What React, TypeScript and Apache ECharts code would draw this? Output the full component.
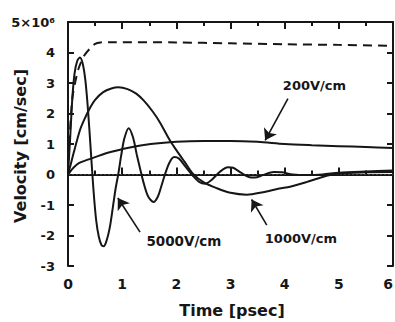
import React, { useEffect, useRef } from 'react';
import * as echarts from 'echarts';

// time [psec], velocity [10^6 cm/sec]
const xTickValues = [0, 1, 2, 3, 4, 5, 6];
const yTickValues = [-3, -2, -1, 0, 1, 2, 3, 4, 5];

const field200: [number, number][] = [
  [0, 0], [0.1, 0.22], [0.2, 0.37], [0.34, 0.47], [0.5, 0.57], [0.75, 0.72],
  [1.0, 0.83], [1.4, 0.97], [2.0, 1.07], [2.5, 1.1], [3.0, 1.1], [3.5, 1.07],
  [4.0, 1.0], [4.5, 0.96], [5.0, 0.93], [5.5, 0.9], [6.0, 0.87],
];

const field1000: [number, number][] = [
  [0, 0], [0.05, 0.33], [0.1, 0.68], [0.22, 1.45], [0.3, 1.8], [0.41, 2.2],
  [0.5, 2.45], [0.65, 2.7], [0.8, 2.82], [0.93, 2.86], [1.1, 2.8], [1.26, 2.65],
  [1.4, 2.42], [1.57, 2.05], [1.7, 1.7], [1.88, 1.12], [2.0, 0.8], [2.15, 0.42],
  [2.31, 0.02], [2.5, -0.25], [2.75, -0.45], [3.0, -0.6], [3.3, -0.66],
  [3.6, -0.58], [3.9, -0.46], [4.1, -0.4], [4.4, -0.25], [4.7, -0.08],
  [5.0, 0.03], [5.5, 0.07], [6.0, 0.08],
];

const field5000: [number, number][] = [
  [0, 0], [0.04, 1.2], [0.08, 2.5], [0.12, 3.3], [0.17, 3.72], [0.22, 3.84],
  [0.27, 3.65], [0.32, 3.1], [0.37, 2.1], [0.42, 0.8], [0.47, -0.5],
  [0.52, -1.5], [0.57, -2.05], [0.62, -2.32], [0.66, -2.35], [0.71, -2.18],
  [0.77, -1.75], [0.83, -1.05], [0.88, -0.45], [0.93, 0.03], [0.98, 0.6],
  [1.04, 1.18], [1.12, 1.52], [1.2, 1.22], [1.27, 0.65], [1.33, 0.2],
  [1.4, -0.3], [1.48, -0.72], [1.58, -0.9], [1.66, -0.72], [1.72, -0.4],
  [1.79, 0], [1.87, 0.38], [1.96, 0.57], [2.05, 0.52], [2.15, 0.3],
  [2.31, -0.05], [2.42, -0.24], [2.53, -0.3], [2.65, -0.18], [2.8, 0.08],
  [2.95, 0.24], [3.05, 0.22], [3.2, 0.05], [3.35, -0.09], [3.45, -0.1],
  [3.6, -0.02], [3.8, 0.08], [3.95, 0.07], [4.15, 0], [4.4, -0.02],
  [4.7, 0], [5.0, 0.06], [5.5, 0.1], [6.0, 0.13],
];

const dashedCurve: [number, number][] = [
  [0, 0], [0.04, 1.5], [0.08, 2.5], [0.13, 3.0], [0.2, 3.5], [0.3, 3.9],
  [0.4, 4.12], [0.5, 4.28], [0.6, 4.33], [0.8, 4.34], [2.0, 4.33], [3.0, 4.3],
  [4.0, 4.27], [5.0, 4.25], [6.0, 4.22],
];

const zeroLine: [number, number][] = [[0, 0], [6, 0]];

const curveLabels = ['200V/cm', '1000V/cm', '5000V/cm'];

const FONT = 'DejaVu Sans';
const INK = '#161616';

export default function App() {
  const ref = useRef<HTMLDivElement>(null);

  useEffect(() => {
    if (!ref.current) return;
    const chart = echarts.init(ref.current, null, { renderer: 'svg' });

    // annotation placement in data coordinates
    const labelPos: [number, number][] = [[4.55, 2.92], [4.3, -2.11], [2.14, -2.18]];
    const labelSize = [13, 13, 13.5];
    const arrows: [[number, number], [number, number]][] = [
      [[4.06, 2.49], [3.64, 1.12]],
      [[3.67, -1.66], [3.39, -0.82]],
      [[1.33, -1.89], [0.92, -0.77]],
    ];

    const tickLabel = {
      color: INK,
      fontFamily: FONT,
      fontWeight: 'bold' as const,
      fontSize: 13,
    };

    const curve = (data: [number, number][], dashed = false) => ({
      type: 'line',
      data,
      smooth: 0.3,
      symbol: 'none',
      lineStyle: { color: INK, width: 2, type: dashed ? [9, 6] : 'solid' },
      silent: true,
      z: 3,
    });

    chart.setOption({
      animation: false,
      backgroundColor: '#ffffff',
      grid: { left: 68, right: 2, top: 22, bottom: 56, containLabel: false, outerBoundsMode: 'none' },
      xAxis: [
        {
          type: 'value', min: xTickValues[0], max: xTickValues[xTickValues.length - 1], interval: 1,
          axisLine: { show: true, lineStyle: { color: INK, width: 2 } },
          axisTick: { show: true, inside: true, length: 7, lineStyle: { color: INK, width: 2 } },
          minorTick: { show: true, splitNumber: 2, length: 4, lineStyle: { color: INK, width: 2 } },
          axisLabel: { ...tickLabel, fontSize: 14, margin: 11, alignMaxLabel: 'right' },
          splitLine: { show: false },
        },
        {
          type: 'value', position: 'top', min: 0, max: 6, interval: 1,
          axisLine: { show: true, onZero: false, lineStyle: { color: INK, width: 2 } },
          axisTick: { show: true, inside: true, length: 7, lineStyle: { color: INK, width: 2 } },
          minorTick: { show: true, splitNumber: 2, length: 4, lineStyle: { color: INK, width: 2 } },
          axisLabel: { show: false },
          splitLine: { show: false },
        },
      ],
      yAxis: [
        {
          type: 'value', min: yTickValues[0], max: yTickValues[yTickValues.length - 1], interval: 1,
          axisLine: { show: true, onZero: false, lineStyle: { color: INK, width: 2 } },
          axisTick: { show: true, inside: true, length: 6, lineStyle: { color: INK, width: 2 } },
          axisLabel: {
            ...tickLabel, margin: 13,
            formatter: (v: number) => (v === 5 ? '5×10⁶' : String(v)),
          },
          splitLine: { show: false },
        },
        {
          type: 'value', position: 'right', min: -3, max: 5, interval: 1,
          axisLine: { show: true, onZero: false, lineStyle: { color: INK, width: 2 } },
          axisTick: { show: true, inside: true, length: 6, lineStyle: { color: INK, width: 2 } },
          axisLabel: { show: false },
          splitLine: { show: false },
        },
      ],
      series: [
        {
          type: 'line',
          data: zeroLine,
          symbol: 'none',
          silent: true,
          lineStyle: { color: '#444', width: 1.2, type: [2, 2] },
          z: 2,
          markLine: {
            silent: true,
            symbol: ['none', 'arrow'],
            symbolSize: 11,
            lineStyle: { color: INK, width: 1.6, type: 'solid' },
            label: { show: false },
            data: arrows.map(([a, b]) => [{ coord: a }, { coord: b }]),
          },
          markPoint: {
            silent: true,
            symbol: 'circle',
            symbolSize: 1,
            itemStyle: { color: 'rgba(0,0,0,0)' },
            data: curveLabels.map((name, i) => ({
              name,
              coord: labelPos[i],
              label: {
                show: true,
                position: 'inside',
                formatter: name,
                color: INK,
                fontFamily: FONT,
                fontWeight: 'bold',
                fontSize: labelSize[i],
              },
            })),
          },
        },
        curve(field200),
        curve(field1000),
        curve(field5000),
        curve(dashedCurve, true),
      ],
      graphic: [
        {
          type: 'text',
          x: 20, y: 146, rotation: Math.PI / 2,
          style: {
            text: 'Velocity [cm/sec]', fill: INK, font: `bold 16px "${FONT}"`,
            textAlign: 'center', textVerticalAlign: 'middle',
          },
        },
        {
          type: 'text',
          x: 232, y: 310,
          style: {
            text: 'Time [psec]', fill: INK, font: `bold 16px "${FONT}"`,
            textAlign: 'center', textVerticalAlign: 'middle',
          },
        },
      ],
    });

    return () => chart.dispose();
  }, []);

  return (
    <div
      ref={ref}
      style={{ position: 'fixed', left: 0, top: 0, width: 395, height: 322, background: '#fff' }}
    />
  );
}
